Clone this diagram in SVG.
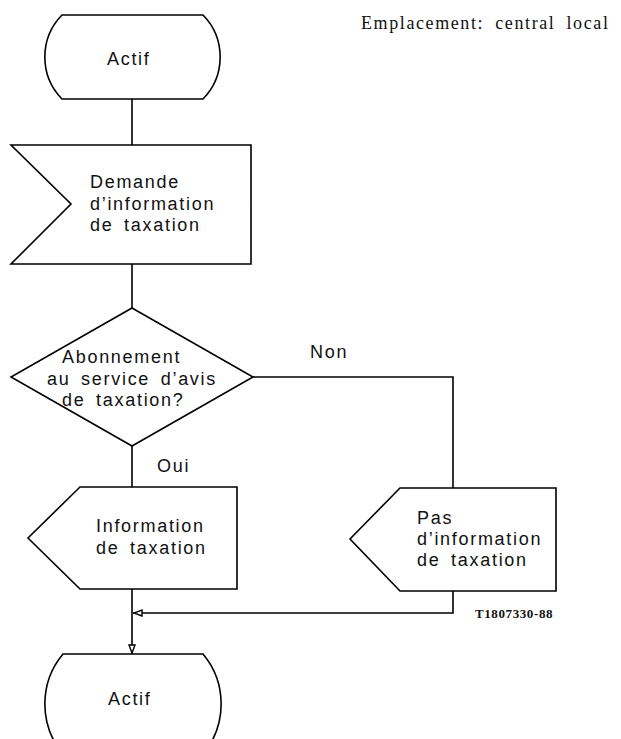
<svg xmlns="http://www.w3.org/2000/svg" width="621" height="739" viewBox="0 0 621 739">
<style>
.shape{fill:#fff;stroke:#000;stroke-width:1.6;stroke-linejoin:miter}
.line{fill:none;stroke:#000;stroke-width:1.6}
.t{font-family:"Liberation Sans",Arial,sans-serif;font-size:18px;letter-spacing:1.7px;word-spacing:4px;fill:#111}
.s{font-family:"Liberation Serif","Times New Roman",serif;fill:#111}
</style>
<defs>
<marker id="arr" viewBox="0 0 10 8" refX="10" refY="4" markerWidth="10" markerHeight="8" markerUnits="userSpaceOnUse" orient="auto">
<path d="M1,1 L9,4 L1,7 Z" fill="#fff" stroke="#000" stroke-width="1.4"/>
</marker>
</defs>
<rect width="621" height="739" fill="#fff"/>
<g id="connectors">
<path class="line" d="M132,99 V145"/>
<path class="line" d="M132,264 V308"/>
<path class="line" d="M132,446 V487"/>
<path class="line" d="M253,377 H453 V488"/>
<path class="line" d="M132,589 V654" marker-end="url(#arr)"/>
<path class="line" d="M453,591 V613 H133" marker-end="url(#arr)"/>
</g>
<g id="start">
<path class="shape" d="M62,15 L203,15 A60,60 0 0 1 203,99 L62,99 A60,60 0 0 1 62,15 Z"/>
<text class="t" x="107" y="65">Actif</text>
</g>
<g id="demande">
<polygon class="shape" points="11,145 251,145 251,264 11,264 71,204"/>
<text class="t" x="90" y="188">Demande</text>
<text class="t" x="90" y="210">d’information</text>
<text class="t" x="90" y="231">de taxation</text>
</g>
<g id="decision">
<polygon class="shape" points="132,308 253,377 132,446 11,377"/>
<text class="t" x="62" y="363">Abonnement</text>
<text class="t" x="47" y="385">au service d’avis</text>
<text class="t" x="62" y="406">de taxation?</text>
</g>
<g id="info">
<polygon class="shape" points="80,487 237,487 237,589 80,589 28,538"/>
<text class="t" x="96" y="532">Information</text>
<text class="t" x="96" y="554">de taxation</text>
</g>
<g id="pas-info">
<polygon class="shape" points="400,488 556,488 556,591 400,591 350,539"/>
<text class="t" x="417" y="524">Pas</text>
<text class="t" x="417" y="545">d’information</text>
<text class="t" x="417" y="566">de taxation</text>
</g>
<g id="end">
<path class="shape" d="M63,654 L203,654 A78,78 0 0 1 203,754 L63,754 A78,78 0 0 1 63,654 Z"/>
<text class="t" x="108" y="705">Actif</text>
</g>
<g id="labels">
<text class="t" x="310" y="358">Non</text>
<text class="t" x="157" y="472">Oui</text>
<text class="s" x="361" y="29" font-size="18" letter-spacing="1.6" word-spacing="5">Emplacement: central local</text>
<text class="s" x="475" y="618" font-size="13" font-weight="bold" letter-spacing="0.6">T1807330-88</text>
</g>
</svg>
